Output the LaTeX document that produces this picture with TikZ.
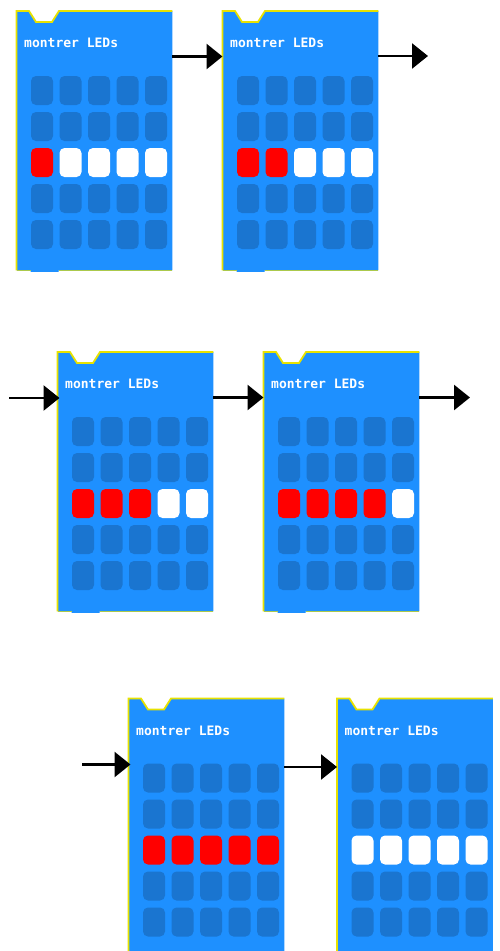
\documentclass[tikz,border=0pt]{standalone}
\usepackage{fontspec}
\newfontfamily\ledfont{DejaVu Sans Mono Bold}
\usetikzlibrary{arrows.meta}
\definecolor{bblue}{RGB}{30,144,255}
\definecolor{ledoff}{RGB}{26,117,208}
\definecolor{ledred}{RGB}{255,0,0}
\definecolor{yl}{RGB}{232,226,0}
\tikzset{
  blk/.style={inner sep=0pt, minimum width=155.5pt, minimum height=259pt, anchor=north west},
  yline/.style={draw=yl, line width=1.8pt},
  ybot/.style={draw=yl!70!bblue, line width=1pt},
  lbl/.style={text=white, font=\ledfont\fontsize{13}{13}\selectfont, inner sep=0pt, anchor=base west},
  ledbox/.style={rounded corners=5pt},
  arr/.style={draw=black, line width=2.6pt, -{Triangle[length=16pt,width=25pt]}}
}
\newcommand\mkblock[4]{%
  \node[blk] (#1) at (#2,#3) {};
  \fill[bblue] (#1.north west) -- ++(12.5,0) -- ++(7,11) -- ++(16,0) -- ++(7,-11)
     -- (#1.north east) -- (#1.south east) -- ([xshift=42pt]#1.south west) -- ++(0,1.5)
     -- ++(-28,0) -- ++(0,-1.5) -- (#1.south west) -- cycle;
  \draw[yline] (#1.south west) -- (#1.north west) -- ++(12.5,0) -- ++(7,11) -- ++(16,0)
     -- ++(7,-11) -- (#1.north east);
  \draw[ybot] ([xshift=14pt]#1.south west) -- (#1.south west);
  \draw[ybot] ([xshift=42pt]#1.south west) -- (#1.south east);
  \node[lbl] (#1t) at ([xshift=7.5pt,yshift=-36.5pt]#1.north west) {montrer LEDs};
  \foreach \i in {0,...,4}{
    \foreach \j in {0,1,3,4}{
      \fill[ledoff,ledbox] ([xshift={(14.5+28.5*\i)*1pt},yshift={-(65+36*\j)*1pt}]#1.north west) rectangle ++(22,29);
    }
    \ifnum\i<#4\relax\def\ledc{ledred}\else\def\ledc{white}\fi
    \fill[\ledc,ledbox] ([xshift={(14.5+28.5*\i)*1pt},yshift={-137pt}]#1.north west) rectangle ++(22,29);
  }
}
\begin{document}
\begin{tikzpicture}[x=1pt,y=-1pt]
\useasboundingbox (0,0) rectangle (499,951);
\clip (0,0) rectangle (499,951);
\fill[white] (0,0) rectangle (499,951);
\mkblock{b1}{16.5}{11}{1}
\mkblock{b2}{222.5}{11}{2}
\mkblock{b3}{57.5}{352}{3}
\mkblock{b4}{263.5}{352}{4}
\mkblock{b5}{128.5}{698.5}{5}
\mkblock{b6}{337}{698.5}{0}
\coordinate (e2) at (428,56);
\coordinate (s3) at (9,398);
\coordinate (e5) at (470,397.5);
\coordinate (s6) at (82,764.5);
\draw[arr] ([yshift=-45.5pt]b1.north east) -- ([yshift=-45.5pt]b2.north west);
\draw[arr] ([yshift=-45pt]b2.north east) -- (e2);
\draw[arr] (s3) -- ([yshift=-46pt,xshift=2pt]b3.north west);
\draw[arr] ([yshift=-45.5pt]b3.north east) -- ([yshift=-45.5pt]b4.north west);
\draw[arr] ([yshift=-45.5pt]b4.north east) -- (e5);
\draw[arr] (s6) -- ([yshift=-66pt,xshift=2pt]b5.north west);
\draw[arr] ([yshift=-68.5pt]b5.north east) -- ([yshift=-68.5pt]b6.north west);
\end{tikzpicture}
\end{document}
